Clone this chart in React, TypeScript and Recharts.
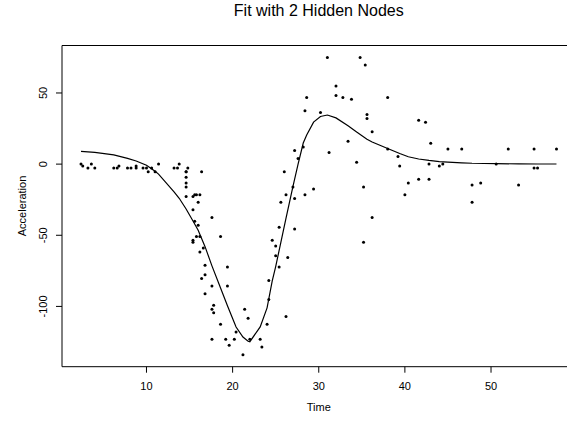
import { ReferenceArea, Scatter, ScatterChart, XAxis, YAxis } from 'recharts';

// motorcycle impact data (time in ms, head acceleration in g)
const times = [
  2.4, 2.6, 3.2, 3.6, 4.0, 6.2, 6.6, 6.8, 7.8, 8.2, 8.8, 8.8, 9.6, 10.0, 10.2, 10.6, 11.0, 11.4,
  13.2, 13.6, 13.8, 14.6, 14.6, 14.6, 14.6, 14.6, 14.6, 14.8, 15.4, 15.4, 15.4, 15.4, 15.6, 15.6,
  15.8, 15.8, 16.0, 16.0, 16.2, 16.2, 16.2, 16.4, 16.4, 16.6, 16.8, 16.8, 16.8, 17.6, 17.6, 17.6,
  17.6, 17.8, 17.8, 18.6, 18.6, 19.2, 19.4, 19.4, 19.6, 20.2, 20.4, 21.2, 21.4, 21.8, 22.0, 23.2,
  23.4, 24.0, 24.2, 24.2, 24.6, 25.0, 25.0, 25.4, 25.4, 25.6, 26.0, 26.2, 26.2, 26.4, 27.0, 27.2,
  27.2, 27.2, 27.6, 28.2, 28.4, 28.4, 28.6, 29.4, 30.2, 31.0, 31.2, 32.0, 32.0, 32.8, 33.4, 33.8,
  34.4, 34.8, 35.2, 35.2, 35.4, 35.6, 35.6, 36.2, 36.2, 38.0, 38.0, 39.2, 39.4, 40.0, 40.4, 41.6,
  41.6, 42.4, 42.8, 42.8, 43.0, 44.0, 44.4, 45.0, 46.6, 47.8, 47.8, 48.8, 50.6, 52.0, 53.2, 55.0,
  55.0, 55.4, 57.6,
];

const accel = [
  0.0, -1.3, -2.7, 0.0, -2.7, -2.7, -2.7, -1.3, -2.7, -2.7, -1.3, -2.7, -2.7, -2.7, -5.4, -2.7,
  -5.4, 0.0, -2.7, -2.7, 0.0, -13.3, -5.4, -5.4, -9.3, -16.0, -22.8, -2.7, -22.8, -32.1, -53.5,
  -54.9, -40.2, -21.5, -21.5, -50.8, -42.9, -26.8, -21.5, -50.8, -61.7, -5.4, -80.4, -59.0, -71.0,
  -91.1, -77.7, -37.5, -85.6, -123.1, -101.9, -99.1, -104.4, -112.5, -50.8, -123.1, -85.6, -72.3,
  -127.2, -123.1, -117.9, -134.0, -101.9, -108.4, -123.1, -123.1, -128.5, -112.5, -95.1, -81.8,
  -53.5, -64.4, -57.6, -72.3, -44.3, -26.8, -5.4, -107.1, -21.5, -65.6, -16.0, -45.6, -24.2, 9.5,
  4.0, 12.0, -21.5, 37.5, 46.9, -17.4, 36.2, 75.0, 8.1, 54.9, 48.2, 46.9, 16.0, 45.6, 1.3, 75.0,
  -16.0, -54.9, 69.6, 34.8, 32.1, -37.5, 22.8, 46.9, 10.7, 5.4, -1.3, -21.5, -13.3, 30.8, -10.7,
  29.4, 0.0, -10.7, 14.7, -1.3, 0.0, 10.7, 10.7, -26.8, -14.7, -13.3, 0.0, 10.7, -14.7, -2.7, 10.7,
  -2.7, 10.7,
];

// fitted values of the 2-node net
const fitTimes = [
  2.4, 4.0, 6.2, 7.8, 8.8, 10.0, 11.0, 11.4, 13.2, 13.8, 14.6, 15.4, 16.0, 16.8, 17.6, 18.6, 19.4,
  20.4, 21.2, 21.8, 22.0, 23.2, 24.0, 24.6, 25.0, 25.6, 26.2, 27.0, 27.6, 28.2, 28.6, 29.4, 30.2,
  31.0, 32.0, 33.4, 34.4, 35.6, 36.2, 38.0, 39.4, 40.4, 41.6, 42.8, 44.0, 45.0, 46.6, 47.8, 50.6,
  53.2, 55.4, 57.6,
];
const fitAccel = [
  8.9, 8.2, 6.5, 4.0, 2.2, -0.8, -5.0, -7.0, -19.5, -24.0, -31.5, -40.0, -46.5, -58.0, -71.5,
  -87.0, -99.5, -114.5, -121.5, -124.5, -124.8, -114.4, -101.0, -82.0, -72.0, -55.0, -38.0, -15.8,
  0.0, 14.8, 20.5, 29.5, 33.5, 34.5, 32.5, 27.0, 22.5, 17.5, 15.5, 11.0, 7.5, 5.2, 3.6, 2.6, 1.8,
  1.4, 0.9, 0.6, 0.3, 0.2, 0.1, 0.1,
];

const xTicks = [10, 20, 30, 40, 50];
const yTicks = [-100, -50, 0, 50];

const FONT = '"Liberation Sans", Arial, sans-serif';
const X_DOMAIN: [number, number] = [0.192, 59.808];
const Y_DOMAIN: [number, number] = [-142.36, 83.36];

const points = times.map((t, i) => ({ t, a: accel[i] }));
const fit = fitTimes.map((t, i) => ({ t, a: fitAccel[i] }));

const Dot = (p: any) => <circle cx={p.cx} cy={p.cy} r={1.5} fill="#000" />;
const NoDot = () => <g />;

const XTick = (p: any) => (
  <text x={p.x} y={390} textAnchor="middle" fontSize={11} fontFamily={FONT} fill="#000">
    {p.payload.value}
  </text>
);

const YTick = (p: any) => (
  <text
    x={47.2}
    y={p.y}
    transform={`rotate(-90, 47.2, ${p.y})`}
    textAnchor="middle"
    fontSize={11}
    fontFamily={FONT}
    fill="#000"
  >
    {p.payload.value}
  </text>
);

export default function App() {
  return (
    <div style={{ position: 'absolute', left: 0, top: 0, width: 567, height: 421, overflow: 'hidden', background: '#fff' }}>
      <div
        style={{
          position: 'absolute',
          left: 0,
          top: 2,
          width: 637.5,
          textAlign: 'center',
          fontFamily: FONT,
          fontSize: 16,
          lineHeight: '18px',
          color: '#000',
        }}
      >
        Fit with 2 Hidden Nodes
      </div>
      <ScatterChart width={580} height={421} margin={{ top: 45.5, right: 4.5, bottom: 0, left: 0 }}>
        <XAxis
          type="number"
          dataKey="t"
          domain={X_DOMAIN}
          ticks={xTicks}
          allowDataOverflow
          height={54.3}
          axisLine={false}
          tickSize={6}
          tickLine={{ stroke: '#000' }}
          tick={XTick}
          label={{
            content: () => (
              <text x={318.75} y={411} textAnchor="middle" fontSize={11} fontFamily={FONT} fill="#000">
                Time
              </text>
            ),
          }}
        />
        <YAxis
          type="number"
          dataKey="a"
          domain={Y_DOMAIN}
          ticks={yTicks}
          allowDataOverflow
          width={62}
          axisLine={false}
          tickSize={6}
          tickLine={{ stroke: '#000' }}
          tick={YTick}
          label={{
            content: () => (
              <text
                x={26}
                y={206}
                transform="rotate(-90, 26, 206)"
                textAnchor="middle"
                fontSize={11}
                fontFamily={FONT}
                fill="#000"
              >
                Acceleration
              </text>
            ),
          }}
        />
        <ReferenceArea
          x1={X_DOMAIN[0]}
          x2={X_DOMAIN[1]}
          y1={Y_DOMAIN[0]}
          y2={Y_DOMAIN[1]}
          ifOverflow="visible"
          fill="none"
          stroke="#000"
          strokeWidth={1}
        />
        <Scatter data={points} shape={Dot} isAnimationActive={false} />
        <Scatter
          data={fit}
          shape={NoDot}
          line={{ stroke: '#000', strokeWidth: 1.2 }}
          isAnimationActive={false}
        />
      </ScatterChart>
    </div>
  );
}
